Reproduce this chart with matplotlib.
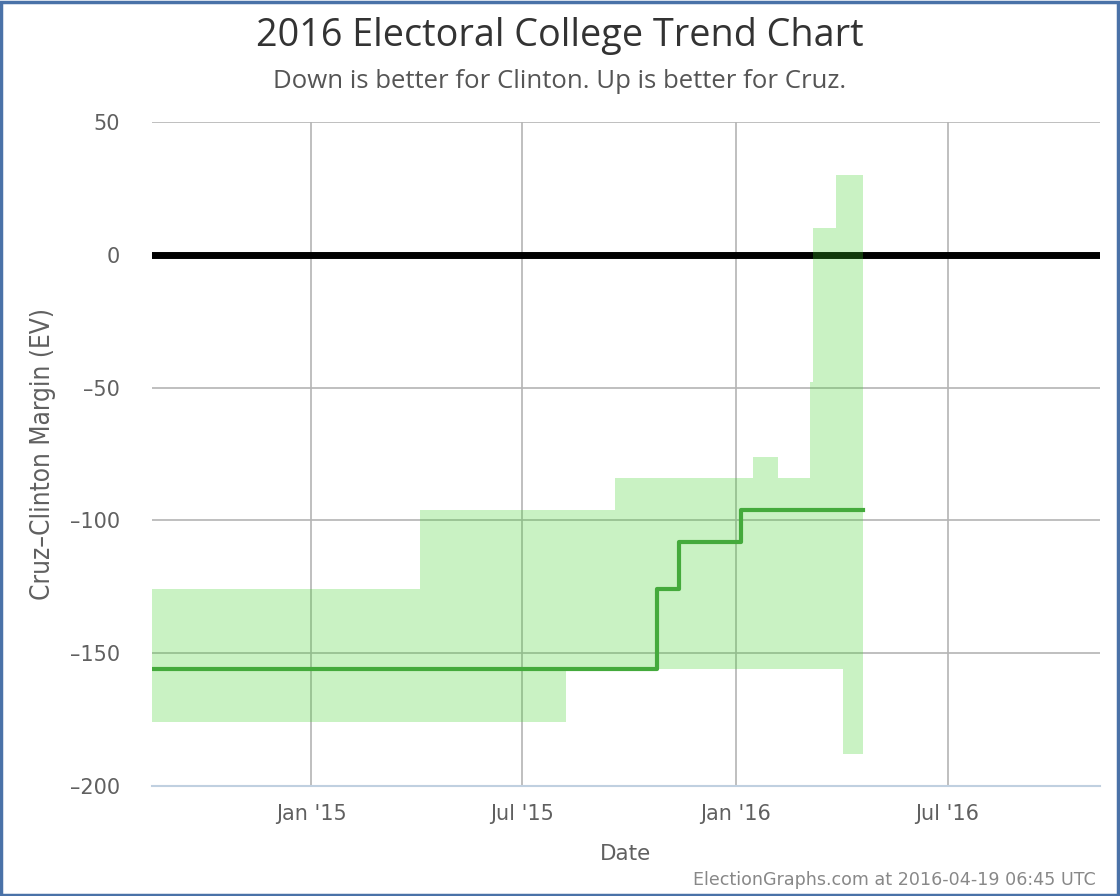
import matplotlib
matplotlib.use("Agg")
import matplotlib.pyplot as plt
import pandas as pd
from matplotlib.patches import Rectangle

# range of possible outcomes (step changes)
band_dates = ["2014-08-17", "2015-04-04", "2015-08-08", "2015-09-19", "2016-01-16",
              "2016-02-06", "2016-03-05", "2016-03-07", "2016-03-27", "2016-04-02",
              "2016-04-19"]
band_upper = [-126, -96, -96, -84, -76, -84, -48, 10, 30, 30, 30]
band_lower = [-176, -176, -156, -156, -156, -156, -156, -156, -156, -188, -188]

# expected margin
line_dates = ["2014-08-17", "2015-10-25", "2015-11-13", "2016-01-05", "2016-04-19"]
line_vals = [-156, -126, -108, -96, -96]

x_start, x_end = "2014-08-17", "2016-11-09"
tick_dates = ["2015-01-01", "2015-07-01", "2016-01-01", "2016-07-01"]
tick_labels = ["Jan '15", "Jul '15", "Jan '16", "Jul '16"]
y_ticks = [50, 0, -50, -100, -150, -200]

plt.rcParams["font.family"] = ["DejaVu Sans"]
HEAD = ["Open Sans", "DejaVu Sans"]

fig = plt.figure(figsize=(11.2, 8.96), dpi=100)
ax = fig.add_axes([152 / 1120, 110 / 896, 948 / 1120, 664 / 896])

bd = pd.to_datetime(band_dates)
ld = pd.to_datetime(line_dates)

ax.axhline(0, color="black", lw=5, zorder=2)
ax.fill_between(bd, band_lower, band_upper, step="post",
                facecolor="#3fd22a", alpha=0.28, lw=0, zorder=3)
ax.step(ld, line_vals, where="post", color="#44aa3c", lw=3, zorder=4)

ax.set_xlim(pd.Timestamp(x_start), pd.Timestamp(x_end))
ax.set_ylim(-200, 50)
ax.set_xticks(pd.to_datetime(tick_dates))
ax.set_xticklabels(tick_labels)
ax.set_yticks(y_ticks)
ax.set_yticklabels([str(v).replace("-", "\u2013") for v in y_ticks])

ax.grid(True, color="#b4b4b4", lw=1.2, zorder=1)
ax.set_axisbelow(True)
for s in ["top", "right", "left"]:
    ax.spines[s].set_visible(False)
ax.spines["bottom"].set_color("#c0d0e0")
ax.spines["bottom"].set_linewidth(1.5)
ax.tick_params(axis="both", length=0, labelsize=15, labelcolor="#606060")
ax.tick_params(axis="x", pad=13)
ax.tick_params(axis="y", pad=23)

ax.set_xlabel("Date", fontsize=15.5, color="#606060", labelpad=14)
ax.set_ylabel("Cruz\u2013Clinton Margin (EV)", fontsize=18.8, fontstretch="condensed",
              color="#606060", labelpad=10)

fig.text(0.5, 1 - 36 / 896, "2016 Electoral College Trend Chart",
         ha="center", va="center", fontsize=27.2, color="#333333", family=HEAD)
fig.text(0.5, 1 - 81 / 896, "Down is better for Clinton. Up is better for Cruz.",
         ha="center", va="center", fontsize=18.5, color="#555555", family=HEAD)
fig.text(1096 / 1120, 1 - 880 / 896, "ElectionGraphs.com at 2016-04-19 06:45 UTC",
         ha="right", va="center", fontsize=12.6, color="#888888")

fig.patches.append(Rectangle((0.001, 0.001), 0.997, 0.997, transform=fig.transFigure,
                             fill=False, edgecolor="#4a72a8", lw=2.5))

fig.savefig("out.png", dpi=100)
